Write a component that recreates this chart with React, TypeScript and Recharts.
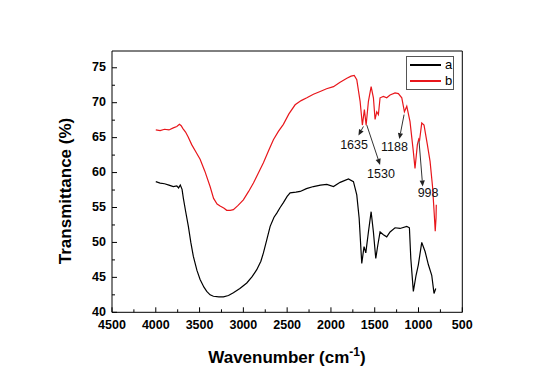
import React from "react";
import {
  LineChart,
  Line,
  XAxis,
  YAxis,
  ReferenceLine,
  ReferenceDot,
} from "recharts";

// spectrum a (black)
const waveA = [
  4000, 3950, 3900, 3850, 3800, 3760, 3740, 3720, 3700, 3685, 3660, 3628, 3600,
  3571, 3530, 3494, 3450, 3418, 3380, 3342, 3280, 3228, 3170, 3114, 3040, 2961,
  2900, 2847, 2800, 2771, 2730, 2694, 2650, 2618, 2580, 2543, 2500, 2466, 2400,
  2351, 2280, 2199, 2120, 2047, 1971, 1895, 1800, 1743, 1705, 1678, 1648, 1622,
  1602, 1572, 1541, 1515, 1488, 1465, 1439, 1401, 1363, 1325, 1268, 1211, 1134,
  1104, 1088, 1059, 1028, 1002, 963, 925, 887, 849, 823, 803,
];
const transA = [
  58.7, 58.5, 58.4, 58.2, 58.0, 58.1, 57.8, 58.2, 57.6, 56.3, 54.5, 52.3, 50.0,
  48.0, 46.0, 44.7, 43.6, 43.0, 42.5, 42.3, 42.2, 42.2, 42.4, 42.8, 43.4, 44.2,
  45.1, 46.1, 47.3, 48.5, 50.5, 52.3, 53.6, 54.2, 55.0, 55.7, 56.6, 57.1, 57.2,
  57.3, 57.7, 58.0, 58.2, 58.3, 58.0, 58.6, 59.1, 58.7, 56.8, 53.5, 47.0, 49.4,
  48.5, 51.5, 54.4, 51.5, 47.7, 49.6, 51.5, 51.1, 50.8, 51.5, 52.1, 52.0, 52.3,
  52.1, 47.7, 43.0, 45.3, 46.8, 50.0, 48.7, 46.8, 45.3, 42.7, 43.4,
];

// spectrum b (red)
const waveB = [
  4000, 3950, 3900, 3850, 3800, 3760, 3730, 3710, 3690, 3660, 3630, 3590, 3540,
  3494, 3440, 3380, 3340, 3300, 3266, 3220, 3190, 3150, 3114, 3060, 3000, 2940,
  2885, 2830, 2771, 2710, 2657, 2600, 2543, 2480, 2409, 2340, 2275, 2200, 2123,
  2050, 1971, 1900, 1818, 1770, 1734, 1705, 1667, 1641, 1618, 1598, 1572, 1541,
  1515, 1496, 1477, 1458, 1439, 1401, 1363, 1325, 1268, 1230, 1191, 1161, 1134,
  1097, 1059, 1040, 1013, 997, 988, 963, 937, 899, 868, 840, 820, 809, 800, 797,
];
const transB = [
  66.1, 66.0, 66.2, 66.1, 66.4, 66.6, 66.9, 66.7, 66.3, 65.8, 65.1, 64.0, 62.9,
  61.9, 60.2, 58.0, 56.3, 55.5, 55.2, 54.9, 54.6, 54.6, 54.7, 55.3, 56.1, 57.3,
  58.5, 59.9, 61.4, 63.2, 64.7, 65.9, 66.9, 68.4, 69.7, 70.3, 70.7, 71.2, 71.6,
  72.0, 72.3, 72.9, 73.5, 73.8, 73.9, 73.3, 70.2, 66.8, 69.0, 66.8, 70.2, 72.3,
  70.7, 67.6, 68.7, 68.3, 70.7, 70.9, 70.7, 71.1, 71.4, 71.3, 70.7, 68.7, 69.5,
  67.3, 63.0, 60.6, 64.0, 64.8, 64.6, 67.1, 66.8, 64.0, 61.6, 58.0, 54.0, 51.6,
  53.5, 55.4,
];

const xTicks = [
  4500, 4250, 4000, 3750, 3500, 3250, 3000, 2750, 2500, 2250, 2000, 1750, 1500,
  1250, 1000, 750, 500,
];
const yTicks = [40, 42.5, 45, 47.5, 50, 52.5, 55, 57.5, 60, 62.5, 65, 67.5, 70, 72.5, 75];

// peak labels: label, label position, arrow start, arrow end (data units)
const peakLabels = ["1635", "1530", "1188", "998"];
const labelPos = [
  [1736, 64.0],
  [1428, 59.8],
  [1274, 63.8],
  [891, 57.2],
];
const arrowFrom = [
  [1629, 66.6],
  [1591, 66.8],
  [1165, 68.3],
  [994, 64.5],
];
const arrowTo = [
  [1686, 65.3],
  [1439, 61.1],
  [1219, 64.8],
  [952, 58.0],
];

const dataA = waveA.map((w, i) => ({ w, t: transA[i] }));
const dataB = waveB.map((w, i) => ({ w, t: transB[i] }));

const FONT = "Arial, 'Liberation Sans', Helvetica, sans-serif";
const RED = "#e8161b";

const XTick = (props: any) => {
  const { x, y, payload } = props;
  const v = payload.value;
  const major = v % 500 === 0;
  return (
    <g>
      <line x1={x} x2={x} y1={y} y2={y - (major ? 5 : 3)} stroke="#000" />
      {major && (
        <text x={x} y={y + 17} textAnchor="middle" fontSize={12.5} fontWeight="bold" fontFamily={FONT} fill="#000">
          {v}
        </text>
      )}
    </g>
  );
};

const YTick = (props: any) => {
  const { x, y, payload } = props;
  const v = payload.value;
  const major = v % 5 === 0;
  return (
    <g>
      <line x1={x} x2={x + (major ? 5 : 3)} y1={y} y2={y} stroke="#000" />
      {major && (
        <text x={x - 6} y={y + 3.5} textAnchor="end" fontSize={12.5} fontWeight="bold" fontFamily={FONT} fill="#000">
          {v}
        </text>
      )}
    </g>
  );
};

const Arrow = (p: any) => {
  const { x1, y1, x2, y2 } = p;
  const ang = Math.atan2(y2 - y1, x2 - x1);
  const len = 6;
  const half = 2.6;
  const bx = x2 - len * Math.cos(ang);
  const by = y2 - len * Math.sin(ang);
  const nx = -Math.sin(ang) * half;
  const ny = Math.cos(ang) * half;
  return (
    <g>
      <line x1={x1} y1={y1} x2={bx} y2={by} stroke="#333" strokeWidth={1} />
      <polygon points={`${x2},${y2} ${bx + nx},${by + ny} ${bx - nx},${by - ny}`} fill="#222" />
    </g>
  );
};

export default function App() {
  return (
    <div style={{ position: "relative", width: 527, height: 373, fontFamily: FONT }}>
      <LineChart
        width={527}
        height={373}
        margin={{ top: 42, right: 71.7, left: 103, bottom: 67.7 }}
      >
        <XAxis
          dataKey="w"
          type="number"
          domain={[500, 4500]}
          reversed
          ticks={xTicks}
          interval={0}
          height={1}
          tickSize={0}
          tickMargin={0}
          tickLine={false}
          axisLine={{ stroke: "#000" }}
          tick={(props: any) => <XTick {...props} />}
        />
        <XAxis
          xAxisId="top"
          orientation="top"
          type="number"
          domain={[500, 4500]}
          reversed
          height={1}
          tick={false}
          tickLine={false}
          axisLine={{ stroke: "#000" }}
        />
        <YAxis
          type="number"
          domain={[40, 77.4]}
          allowDataOverflow
          ticks={yTicks}
          interval={0}
          width={1}
          tickSize={0}
          tickMargin={0}
          tickLine={false}
          axisLine={{ stroke: "#000" }}
          tick={(props: any) => <YTick {...props} />}
        />
        <YAxis
          yAxisId="right"
          orientation="right"
          type="number"
          domain={[40, 77.4]}
          width={1}
          tick={false}
          tickLine={false}
          axisLine={{ stroke: "#000" }}
        />
        <Line
          data={dataA}
          dataKey="t"
          type="linear"
          stroke="#000"
          strokeWidth={1.2}
          dot={false}
          isAnimationActive={false}
        />
        <Line
          data={dataB}
          dataKey="t"
          type="linear"
          stroke={RED}
          strokeWidth={1.2}
          dot={false}
          isAnimationActive={false}
        />
        {peakLabels.map((lab, i) => (
          <ReferenceLine
            key={"a" + lab}
            segment={[
              { x: arrowFrom[i][0], y: arrowFrom[i][1] },
              { x: arrowTo[i][0], y: arrowTo[i][1] },
            ]}
            ifOverflow="visible"
            shape={(p: any) => <Arrow {...p} />}
          />
        ))}
        {peakLabels.map((lab, i) => (
          <ReferenceDot
            key={"l" + lab}
            x={labelPos[i][0]}
            y={labelPos[i][1]}
            r={1}
            ifOverflow="visible"
            shape={(p: any) => (
              <text
                x={p.cx}
                y={p.cy + 4.5}
                textAnchor="middle"
                fontSize={12.5}
                fontFamily={FONT}
                fill="#111"
              >
                {lab}
              </text>
            )}
          />
        ))}
        <text
          x={279}
          y={355}
          textAnchor="middle"
          fontSize={17}
          fontWeight="bold"
          fontFamily={FONT}
          fill="#000"
        >
          Wavenumber (cm
          <tspan dy={-7} fontSize={12}>-1</tspan>
          <tspan dy={7}>)</tspan>
        </text>
        <text
          x={63}
          y={183}
          transform="rotate(-90, 63, 183)"
          textAnchor="middle"
          fontSize={17}
          fontWeight="bold"
          fontFamily={FONT}
          fill="#000"
        >
          Transmittance (%)
        </text>
      </LineChart>
      <div
        style={{
          position: "absolute",
          left: 398,
          top: 48,
          width: 48,
          height: 34,
          boxSizing: "border-box",
          border: "1px solid #555",
          background: "#fff",
          fontSize: 13,
          lineHeight: "16px",
        }}
      >
        <div style={{ display: "flex", alignItems: "center", height: 16 }}>
          <div style={{ marginLeft: 3, width: 31, height: 1.4, background: "#000" }} />
          <span style={{ marginLeft: 4 }}>a</span>
        </div>
        <div style={{ display: "flex", alignItems: "center", height: 16 }}>
          <div style={{ marginLeft: 3, width: 31, height: 1.4, background: RED }} />
          <span style={{ marginLeft: 4 }}>b</span>
        </div>
      </div>
    </div>
  );
}
